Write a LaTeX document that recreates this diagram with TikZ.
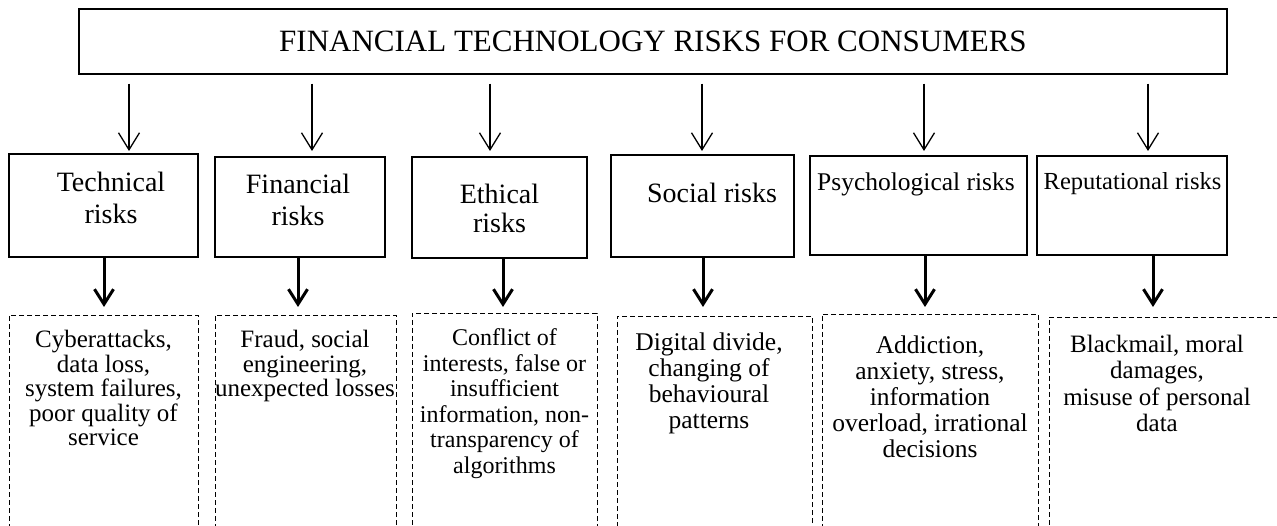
\documentclass[tikz,border=0pt]{standalone}
\usepackage{fontspec}
\setmainfont{Liberation Serif}
\usetikzlibrary{arrows.meta}

\begin{document}
\begin{tikzpicture}[x=1pt, y=-1pt,
  titlebox/.style={draw, line width=1.1pt, inner sep=0pt, font=\fontsize{31}{36}\selectfont},
  riskbox/.style={draw, line width=1.1pt, inner sep=0pt},
  risklabel/.style={anchor=north, align=center, inner sep=0pt, font=\fontsize{28}{32}\selectfont},
  effectbox/.style={draw, line width=0.9pt, dash pattern=on 5pt off 3pt, inner sep=0pt},
  effectlabel/.style={anchor=north, align=center, inner sep=0pt, font=\fontsize{25}{24.5}\selectfont},
  linkarrow/.style={-{Straight Barb[length=17pt,width=21pt]}, line width=1.3pt},
  boldarrow/.style={-{Straight Barb[length=15pt,width=19pt]}, line width=3pt}]

\useasboundingbox (0,0) rectangle (1277,526);
\clip (0,0) rectangle (1277,526);

% top
\node[titlebox, minimum width=1148pt, minimum height=65pt] (title) at (653,41.5)
  {FINANCIAL TECHNOLOGY RISKS FOR CONSUMERS};

% kinds of risk
\node[riskbox, minimum width=189pt, minimum height=103pt] (tech) at (103.5,205.5) {};
\node[riskbox, minimum width=170pt, minimum height=100pt] (fin) at (300,207) {};
\node[riskbox, minimum width=175pt, minimum height=101pt] (eth) at (499.5,207.5) {};
\node[riskbox, minimum width=183pt, minimum height=102pt] (soc) at (702.5,206) {};
\node[riskbox, minimum width=217pt, minimum height=99pt] (psy) at (918.5,205.5) {};
\node[riskbox, minimum width=190pt, minimum height=99pt] (rep) at (1132,205.5) {};

\node[risklabel] (techlbl) at (111,171.5) {Technical\\risks};
\node[risklabel] (finlbl) at (298,174) {Financial\\risks};
\node[risklabel, font=\fontsize{28}{29}\selectfont] (ethlbl) at (499.5,184) {Ethical\\risks};
\node[risklabel] (soclbl) at (712,183) {Social risks};
\node[risklabel, font=\fontsize{25.5}{30}\selectfont] (psylbl) at (916,172.5) {Psychological risks};
\node[risklabel, font=\fontsize{24.5}{30}\selectfont] (replbl) at (1132.5,172.5) {Reputational risks};

% what each risk brings (boxes run past the bottom edge)
\node[effectbox, minimum width=189pt, minimum height=245pt] (techfx) at (103.5,437.5) {};
\node[effectbox, minimum width=181pt, minimum height=245pt] (finfx) at (305.5,437.5) {};
\node[effectbox, minimum width=185pt, minimum height=247pt] (ethfx) at (504.5,436.5) {};
\node[effectbox, minimum width=195pt, minimum height=244pt] (socfx) at (714.5,438) {};
\node[effectbox, minimum width=216pt, minimum height=246pt] (psyfx) at (930,437) {};
\node[effectbox, minimum width=241pt, minimum height=243pt] (repfx) at (1169.5,438.5) {};

\node[effectlabel] (techtxt) at (103.5,330)
  {Cyberattacks,\\data loss,\\system failures,\\poor quality of\\service};
\node[effectlabel] (fintxt) at (305,330)
  {Fraud, social\\engineering,\\unexpected losses};
\node[effectlabel, font=\fontsize{24}{25.5}\selectfont] (ethtxt) at (504.5,328.5)
  {Conflict of\\interests, false or\\insufficient\\information, non-\\transparency of\\algorithms};
\node[effectlabel, font=\fontsize{25.5}{26}\selectfont] (soctxt) at (709,332.5)
  {Digital divide,\\changing of\\behavioural\\patterns};
\node[effectlabel, font=\fontsize{25.5}{26}\selectfont] (psytxt) at (930,335.5)
  {Addiction,\\anxiety, stress,\\information\\overload, irrational\\decisions};
\node[effectlabel, font=\fontsize{25}{26.5}\selectfont] (reptxt) at (1157,334.5)
  {Blackmail, moral\\damages,\\misuse of personal\\data};

% arrows
\coordinate (t1) at (129,151);
\coordinate (t2) at (312,151);
\coordinate (t3) at (490,151);
\coordinate (t4) at (702,151);
\coordinate (t5) at (924,151);
\coordinate (t6) at (1148,151);
\foreach \t in {t1,t2,t3,t4,t5,t6}
  \draw[linkarrow] ([yshift=-9pt]title.south -| \t) -- (\t);

\coordinate (b1) at (104,307);
\coordinate (b2) at (298,307);
\coordinate (b3) at (503,307);
\coordinate (b4) at (703,307);
\coordinate (b5) at (925,307);
\coordinate (b6) at (1153,307);
\draw[boldarrow] (tech.south -| b1) -- (b1);
\draw[boldarrow] (fin.south -| b2) -- (b2);
\draw[boldarrow] (eth.south -| b3) -- (b3);
\draw[boldarrow] (soc.south -| b4) -- (b4);
\draw[boldarrow] (psy.south -| b5) -- (b5);
\draw[boldarrow] (rep.south -| b6) -- (b6);

\end{tikzpicture}
\end{document}
